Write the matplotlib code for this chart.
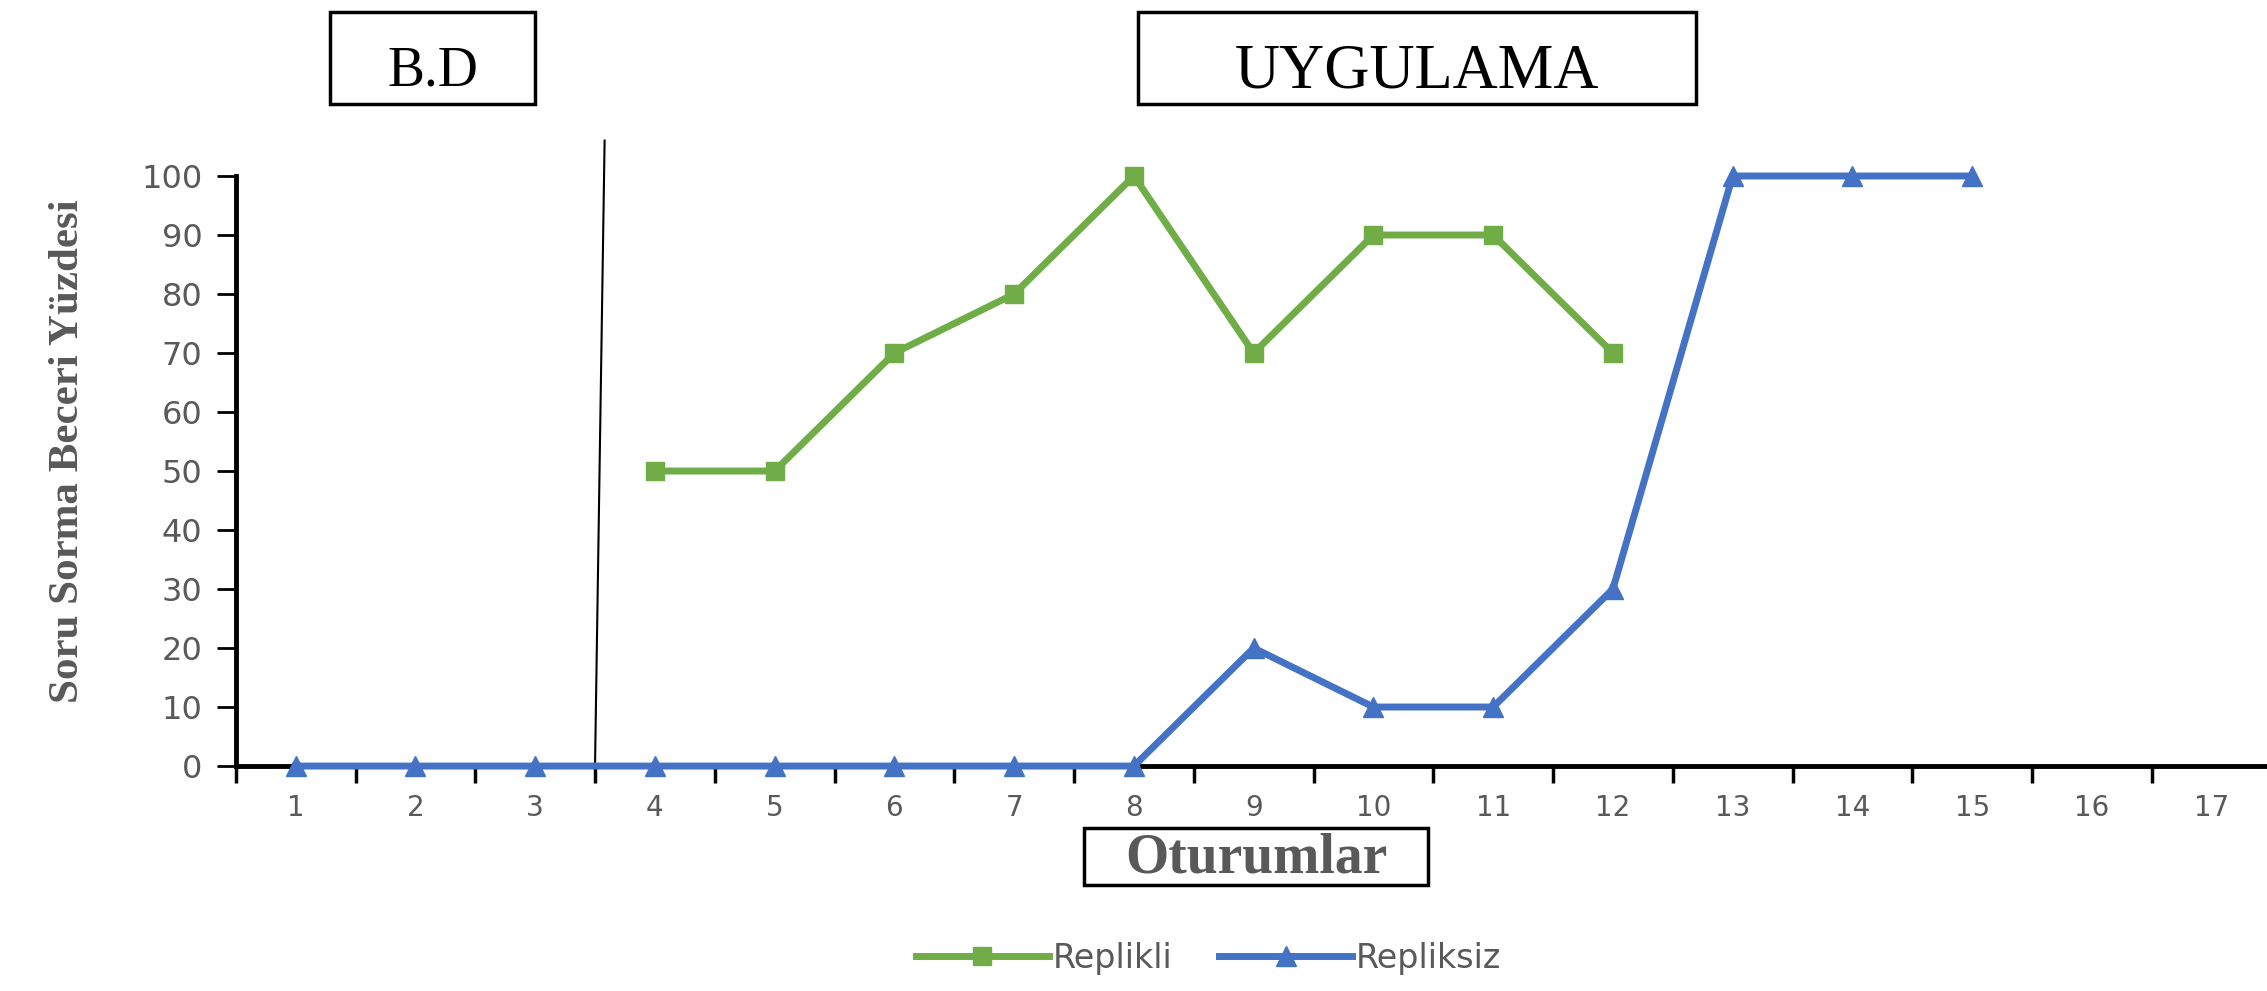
import matplotlib
matplotlib.use("Agg")
import matplotlib.pyplot as plt
from matplotlib.patches import Rectangle

sessions = list(range(1, 18))
replikli_x = [4, 5, 6, 7, 8, 9, 10, 11, 12]
replikli_y = [50, 50, 70, 80, 100, 70, 90, 90, 70]
repliksiz_x = [1, 2, 3, 4, 5, 6, 7, 8, 9, 10, 11, 12, 13, 14, 15]
repliksiz_y = [0, 0, 0, 0, 0, 0, 0, 0, 20, 10, 10, 30, 100, 100, 100]
y_ticks = [0, 10, 20, 30, 40, 50, 60, 70, 80, 90, 100]

GREEN = "#70AD47"
BLUE = "#4472C4"
GRAY = "#595959"

fig = plt.figure(figsize=(22.67, 9.91), dpi=100)
ax = fig.add_axes([0.104, 0.227, 0.898, 0.5954])

ax.plot(replikli_x, replikli_y, color=GREEN, lw=5, marker="s", ms=13,
        label="Replikli", clip_on=False, zorder=3)
ax.plot(repliksiz_x, repliksiz_y, color=BLUE, lw=5, marker="^", ms=14,
        label="Repliksiz", clip_on=False, zorder=3)

ax.set_xlim(0.5, 17.5)
ax.set_ylim(0, 100)
ax.set_yticks(y_ticks)
ax.set_xticks([s for s in sessions])
ax.set_xticklabels([str(s) for s in sessions])
ax.set_xticks([s + 0.5 for s in range(0, 17)], minor=True)
ax.tick_params(axis="x", which="major", length=0, pad=20, labelsize=20, labelcolor=GRAY)
ax.tick_params(axis="x", which="minor", length=12, width=2.5, direction="out", color="black")
ax.tick_params(axis="y", which="major", length=14, width=2, direction="out",
               labelsize=23, labelcolor=GRAY, pad=10)

for s in ["top", "right"]:
    ax.spines[s].set_visible(False)
ax.spines["left"].set_linewidth(3.5)
ax.spines["bottom"].set_linewidth(3.5)

ax.set_ylabel("Soru Sorma Beceri Yüzdesi", family="Liberation Serif", fontweight="bold",
              fontsize=31, color=GRAY)
ax.yaxis.set_label_coords(-0.073, 0.534)

# phase divider line
ax.plot([3.5, 3.58], [0, 106], color="black", lw=1.5, clip_on=False, zorder=2)

# phase label boxes (figure coordinates)
def fig_box(x0, y0, x1, y1, text, size, weight="normal", color="black", lw=2.5, dy=0.0):
    W, H = 2267, 991
    fx, fy = x0 / W, 1 - y1 / H
    fw, fh = (x1 - x0) / W, (y1 - y0) / H
    fig.patches.append(Rectangle((fx, fy), fw, fh, transform=fig.transFigure,
                                 fill=False, ec="black", lw=lw))
    fig.text(fx + fw / 2, fy + fh / 2 + dy / H, text, ha="center", va="center",
             family="Liberation Serif", fontsize=size, fontweight=weight, color=color)

fig_box(330, 12, 535, 104, "B.D", 40, dy=-14)
fig_box(1138, 12, 1696, 104, "UYGULAMA", 45, dy=-14)
fig_box(1084, 828, 1428, 885, "Oturumlar", 40, weight="bold", color=GRAY, dy=-2)

fig.legend(loc="center", bbox_to_anchor=(0.533, 0.033), ncol=2, frameon=False,
           fontsize=24, labelcolor=GRAY, handlelength=4.0, columnspacing=1.4,
           handletextpad=0.1)

fig.savefig("out.png", dpi=100, facecolor="white")
